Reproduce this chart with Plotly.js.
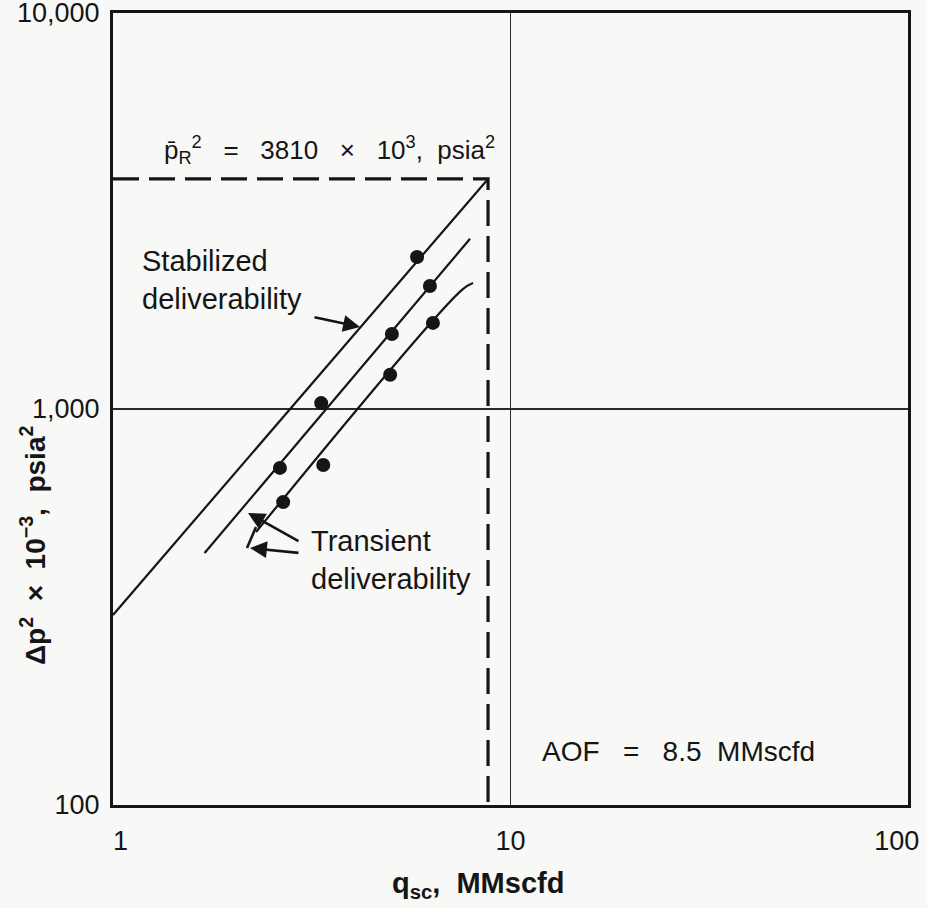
<!DOCTYPE html>
<html>
<head>
<meta charset="utf-8">
<script src="https://cdn.plot.ly/plotly-3.0.1.min.js"></script>
<style>html,body{margin:0;padding:0;background:#f8f8f6;}</style>
</head>
<body>
<div id="chart" style="width:927px;height:908px;"></div>
<script>
// ---- data (q in MMscfd, dp2 in 10^3 psia^2) ----
const nb = '\u00a0';
const sp = n => nb.repeat(n);

const xTickVals = [1, 10, 100];
const xTickText = [sp(2) + '1', '10', '100' + sp(3)];
const yTickVals = [100, 1000, 10000];
const yTickText = ['100', '1,000', '10,000'];

const stabLineQ = [1, 8.78];
const stabLineDp = [302, 3810];
const stabPtsQ = [5.82];
const stabPtsDp = [2420];

const trans1LineQ = [1.70, 7.91];
const trans1LineDp = [433, 2690];
const trans1PtsQ = [2.63, 3.34, 5.03, 6.27];
const trans1PtsDp = [710, 1035, 1547, 2045];

const trans2LineQ = [2.29, 7.55, 8.05];
const trans2LineDp = [489, 2000, 2080];
const trans2PtsQ = [2.68, 3.38, 4.98, 6.38];
const trans2PtsDp = [582, 722, 1220, 1650];

const pR2 = 3810;      // average reservoir pressure squared
const aofQ = 8.78;     // where the AOF dashed line is drawn
const qMin = 1, dpMin = 100;

const FONT = 'Liberation Sans, Arial, Helvetica, sans-serif';
const INK = '#151515';

const traces = [
  {x: stabLineQ, y: stabLineDp, mode: 'lines', line: {color: INK, width: 2.2}, hoverinfo: 'skip'},
  {x: trans1LineQ, y: trans1LineDp, mode: 'lines', line: {color: INK, width: 2.2}, hoverinfo: 'skip'},
  {x: trans2LineQ, y: trans2LineDp, mode: 'lines', line: {color: INK, width: 2.2, shape: 'spline'}, hoverinfo: 'skip'},
  {x: [qMin, aofQ, aofQ], y: [pR2, pR2, dpMin], mode: 'lines', line: {color: INK, width: 3.2, dash: '26px,10px'}, hoverinfo: 'skip'},
  {x: stabPtsQ, y: stabPtsDp, mode: 'markers', marker: {color: INK, size: 14}},
  {x: trans1PtsQ, y: trans1PtsDp, mode: 'markers', marker: {color: INK, size: 14}},
  {x: trans2PtsQ, y: trans2PtsDp, mode: 'markers', marker: {color: INK, size: 14}}
];

// helpers converting reference pixel positions to paper coords (label placement only)
const L = 113, R = 908, T = 13, B = 805;
const px = v => (v - L) / (R - L);
const py = v => (B - v) / (B - T);

const annotations = [
  {xref: 'paper', yref: 'paper', x: px(329), y: py(150), xanchor: 'center', yanchor: 'middle', showarrow: false,
   text: 'p\u0304<sub>R</sub><sup>2</sup>' + sp(3) + '=' + sp(3) + '3810' + sp(3) + '×' + sp(3) + '10<sup>3</sup>,' + sp(2) + 'psia<sup>2</sup>',
   font: {family: FONT, size: 26, color: INK}},
  {xref: 'paper', yref: 'paper', x: px(140), y: py(280), xanchor: 'left', yanchor: 'middle', align: 'left', showarrow: false,
   text: 'Stabilized<br>deliverability', font: {family: FONT, size: 29, color: INK}},
  {xref: 'paper', yref: 'paper', x: px(309), y: py(560), xanchor: 'left', yanchor: 'middle', align: 'left', showarrow: false,
   text: 'Transient<br>deliverability', font: {family: FONT, size: 29, color: INK}},
  {xref: 'paper', yref: 'paper', x: px(678), y: py(751), xanchor: 'center', yanchor: 'middle', showarrow: false,
   text: 'AOF' + sp(3) + '=' + sp(3) + '8.5' + sp(2) + 'MMscfd', font: {family: FONT, size: 28, color: INK}},
  {xref: 'paper', yref: 'paper', x: px(478), y: py(885), xanchor: 'center', yanchor: 'middle', showarrow: false,
   text: '<b>q<sub>sc</sub>,' + sp(2) + 'MMscfd</b>', font: {family: FONT, size: 29, color: INK}},
  {xref: 'paper', yref: 'paper', x: px(33), y: py(546), xanchor: 'center', yanchor: 'middle', showarrow: false, textangle: -90,
   text: '<b>Δp<sup>2</sup>' + sp(2) + '×' + sp(2) + '10<sup>−3</sup>,' + sp(2) + 'psia<sup>2</sup></b>', font: {family: FONT, size: 28, color: INK}},
  // arrows
  {xref: 'paper', yref: 'paper', x: px(360), y: py(327), ax: -47, ay: -10, showarrow: true, text: '',
   arrowhead: 2, arrowsize: 1.3, arrowwidth: 2.6, arrowcolor: INK},
  {xref: 'paper', yref: 'paper', x: px(248), y: py(513), ax: 52, ay: 29, showarrow: true, text: '',
   arrowhead: 2, arrowsize: 1.3, arrowwidth: 2.6, arrowcolor: INK},
  {xref: 'paper', yref: 'paper', x: px(250), y: py(548), ax: 50, ay: 5, showarrow: true, text: '',
   arrowhead: 2, arrowsize: 1.3, arrowwidth: 2.6, arrowcolor: INK}
];

const shapes = [
  {type: 'line', xref: 'paper', yref: 'paper', x0: px(247), y0: py(548), x1: px(256), y1: py(527), line: {color: INK, width: 2.6}}
];

const axisCommon = {
  type: 'log', showline: true, mirror: true, linecolor: INK, linewidth: 3,
  showgrid: true, gridcolor: '#2a2a2a', zeroline: false, ticks: '',
  ticklabeloverflow: 'allow',
  tickfont: {family: FONT, size: 27, color: INK}, fixedrange: true
};

const layout = {
  width: 927, height: 908,
  margin: {l: L, r: 927 - R, t: T, b: 908 - B},
  paper_bgcolor: '#f8f8f6', plot_bgcolor: '#f8f8f6',
  showlegend: false,
  xaxis: Object.assign({}, axisCommon, {range: [0, 2], tickvals: xTickVals, ticktext: xTickText, gridwidth: 1, ticklabelstandoff: 10}),
  yaxis: Object.assign({}, axisCommon, {range: [2, 4], tickvals: yTickVals, ticktext: yTickText, gridwidth: 1.8, ticklabelstandoff: 5}),
  annotations: annotations,
  shapes: shapes
};

Plotly.newPlot('chart', traces, layout, {displayModeBar: false, staticPlot: true});
</script>
</body>
</html>
